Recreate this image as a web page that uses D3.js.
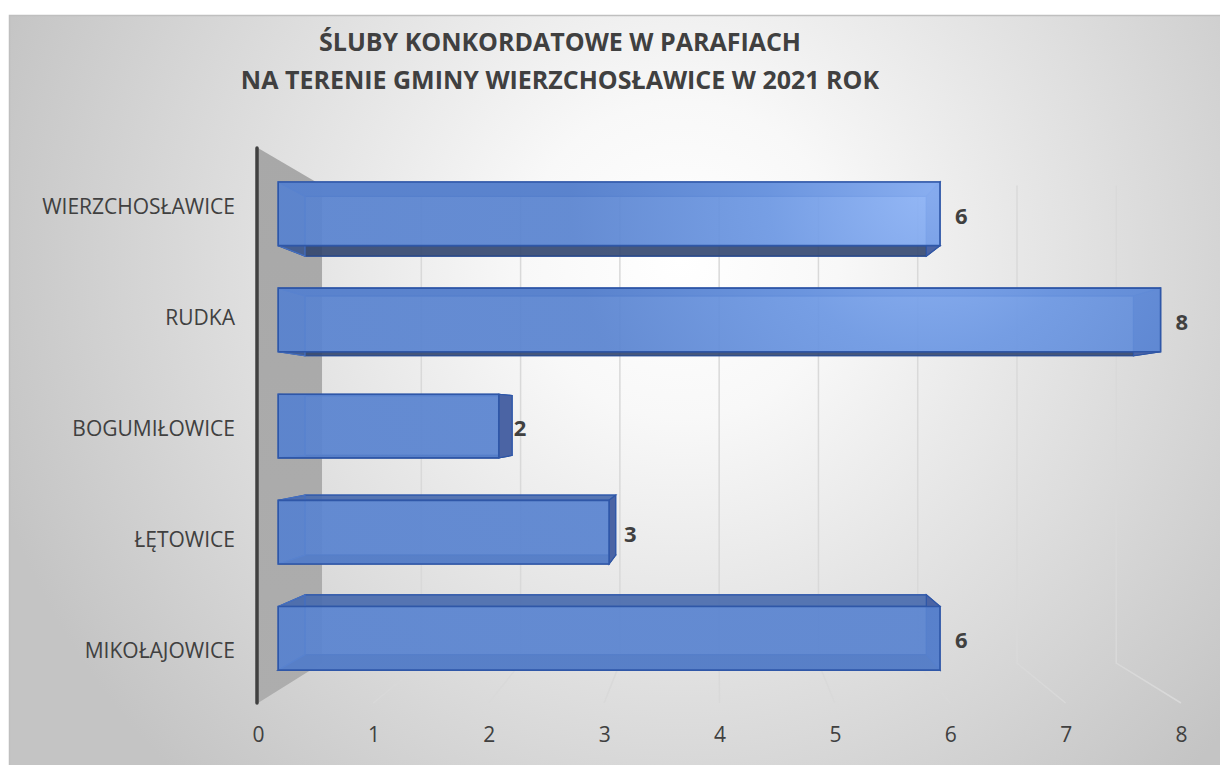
<!DOCTYPE html>
<html>
<head>
<meta charset="utf-8">
<script src="https://cdn.jsdelivr.net/npm/d3@7"></script>
<style>
  body { margin: 0; background: #fff; }
  svg { display: block; font-family: "Open Sans", Lato, sans-serif; }
  .axis text { fill: #404040; font-size: 21px; font-family: "Open Sans", sans-serif; }
</style>
</head>
<body>
<div id="chart"></div>
<script>
var categories = ["WIERZCHOSŁAWICE", "RUDKA", "BOGUMIŁOWICE", "ŁĘTOWICE", "MIKOŁAJOWICE"];
var values = [6, 8, 2, 3, 6];
var xTicks = [0, 1, 2, 3, 4, 5, 6, 7, 8];
var titleLines = ["ŚLUBY KONKORDATOWE W PARAFIACH", "NA TERENIE GMINY WIERZCHOSŁAWICE W 2021 ROK"];

var width = 1220;
var height = 765;

// perspective: front plane + vanishing point
var vpX = 717, vpY = 416.5;
var wallDepth = 0.8605;   // scale of the back wall
var barFront = 0.956;     // scale of bar front faces
var barBack = 0.8976;     // scale of bar back faces

var x = d3.scaleLinear().domain([0, 8]).range([258, 1181]);
var y = d3.scaleBand().domain(categories).range([149, 704])
  .paddingInner(0.4).paddingOuter(0.2);
var yTop = 148, yBottom = 703;

function proj(px, py, s) {
  return [vpX + s * (px - vpX), vpY + s * (py - vpY)];
}

var svg = d3.select("#chart").append("svg")
  .attr("width", width)
  .attr("height", height);

var defs = svg.append("defs");

var bg = defs.append("radialGradient")
  .attr("id", "bg")
  .attr("gradientUnits", "userSpaceOnUse")
  .attr("cx", 680).attr("cy", 260).attr("r", 720);
bg.append("stop").attr("offset", "0").attr("stop-color", "#ffffff");
bg.append("stop").attr("offset", "0.22").attr("stop-color", "#f8f8f8");
bg.append("stop").attr("offset", "1").attr("stop-color", "#c4c4c4");

var barGrad = defs.append("radialGradient")
  .attr("id", "barGrad")
  .attr("gradientUnits", "userSpaceOnUse")
  .attr("cx", 930).attr("cy", 190).attr("r", 360);
barGrad.append("stop").attr("offset", "0").attr("stop-color", "#8db3f6");
barGrad.append("stop").attr("offset", "0.45").attr("stop-color", "#6d98e3");
barGrad.append("stop").attr("offset", "1").attr("stop-color", "#5a84d0");

var wallGrad = defs.append("linearGradient")
  .attr("id", "wallGrad")
  .attr("x1", 0).attr("y1", 0).attr("x2", 0).attr("y2", 1);
wallGrad.append("stop").attr("offset", "0").attr("stop-color", "#a8a8a8");
wallGrad.append("stop").attr("offset", "1").attr("stop-color", "#adadad");

/* chart area */
svg.append("rect")
  .attr("x", 9.5).attr("y", 15.5)
  .attr("width", width + 10).attr("height", height + 10)
  .attr("fill", "url(#bg)")
  .attr("stroke", "#bfbfbf")
  .attr("stroke-width", 1.5);

/* title */
svg.append("g").selectAll("text")
  .data(titleLines)
  .enter()
  .append("text")
  .attr("x", 560)
  .attr("y", (d, i) => 51 + i * 38)
  .attr("text-anchor", "middle")
  .attr("font-size", 25)
  .attr("font-weight", "bold")
  .attr("fill", "#404040")
  .text(d => d);

/* gridlines: back wall + floor */
var line = d3.line();
svg.append("g")
  .selectAll("path")
  .data(xTicks.filter(d => d > 0))
  .enter()
  .append("path")
  .attr("d", d => line([
    proj(x(d), yTop, wallDepth),
    proj(x(d), yBottom, wallDepth),
    [x(d), yBottom]
  ]))
  .attr("fill", "none")
  .attr("stroke", "#d9d9d9")
  .attr("stroke-width", 1.5);

/* side wall */
svg.append("path")
  .attr("d", line([
    [x(0), yTop],
    proj(x(0), yTop, wallDepth),
    proj(x(0), yBottom, wallDepth),
    [x(0), yBottom]
  ]) + "Z")
  .attr("fill", "url(#wallGrad)");

svg.append("line")
  .attr("x1", x(0) - 1).attr("x2", x(0) - 1)
  .attr("y1", yTop).attr("y2", yBottom)
  .attr("stroke", "#404040")
  .attr("stroke-width", 3.5)
  .attr("stroke-linecap", "round");

/* bars as boxes */
var bars = svg.append("g").selectAll("g")
  .data(values)
  .enter()
  .append("g");

function face(d, i, which) {
  var y0 = y(categories[i]), y1 = y0 + y.bandwidth();
  var x0 = x(0), x1 = x(d);
  var f = s => ({
    tl: proj(x0, y0, s), tr: proj(x1, y0, s),
    br: proj(x1, y1, s), bl: proj(x0, y1, s)
  });
  var a = f(barFront), b = f(barBack);
  var pts = {
    back: [b.tl, b.tr, b.br, b.bl],
    left: [a.tl, b.tl, b.bl, a.bl],
    right: [a.tr, b.tr, b.br, a.br],
    top: [a.tl, a.tr, b.tr, b.tl],
    bottom: [a.bl, a.br, b.br, b.bl],
    front: [a.tl, a.tr, a.br, a.bl]
  }[which];
  return line(pts) + "Z";
}

bars.append("path")
  .attr("d", (d, i) => face(d, i, "back"))
  .attr("fill", "url(#barGrad)")
  .attr("fill-opacity", 0.3)
  .attr("stroke", "#4570c2")
  .attr("stroke-width", 1.2);

bars.append("path")
  .attr("d", (d, i) => face(d, i, "top"))
  .attr("fill", "#4a6bad")
  .attr("fill-opacity", 0.9)
  .attr("stroke", "#2f57a8")
  .attr("stroke-width", 1.2);

bars.append("path")
  .attr("d", (d, i) => face(d, i, "bottom"))
  .attr("fill", "#2e4169")
  .attr("fill-opacity", 0.85)
  .attr("stroke", "#2a4a8c")
  .attr("stroke-width", 1.2);

bars.append("path")
  .attr("d", (d, i) => face(d, i, "left"))
  .attr("fill", "#4a6bad")
  .attr("fill-opacity", 0.5)
  .attr("stroke", "#4570c2")
  .attr("stroke-width", 1.2);

bars.append("path")
  .attr("d", (d, i) => face(d, i, "right"))
  .attr("fill", "#4b64a4")
  .attr("stroke", "#2f57a8")
  .attr("stroke-width", 1.2);

bars.append("path")
  .attr("d", (d, i) => face(d, i, "front"))
  .attr("fill", "url(#barGrad)")
  .attr("fill-opacity", 0.9)
  .attr("stroke", "#2f57a8")
  .attr("stroke-width", 1.6);

/* value labels */
bars.append("text")
  .attr("x", d => proj(x(d), 0, barFront)[0] + 15)
  .attr("y", (d, i) => proj(0, y(categories[i]) + y.bandwidth() / 2, barFront)[1] + 2)
  .attr("dy", "0.35em")
  .attr("font-size", 22)
  .attr("font-weight", "bold")
  .attr("fill", "#404040")
  .text(d => d);

/* axes */
var xAxis = d3.axisBottom(x).tickValues(xTicks).tickSize(0).tickPadding(24);
svg.append("g")
  .attr("class", "axis")
  .attr("transform", `translate(0, ${yBottom})`)
  .call(xAxis)
  .call(g => g.select(".domain").remove());

var yAxis = d3.axisLeft(y).tickSize(0).tickPadding(12);
svg.append("g")
  .attr("class", "axis")
  .attr("transform", "translate(247, 3)")
  .call(yAxis)
  .call(g => g.select(".domain").remove());
</script>
</body>
</html>
